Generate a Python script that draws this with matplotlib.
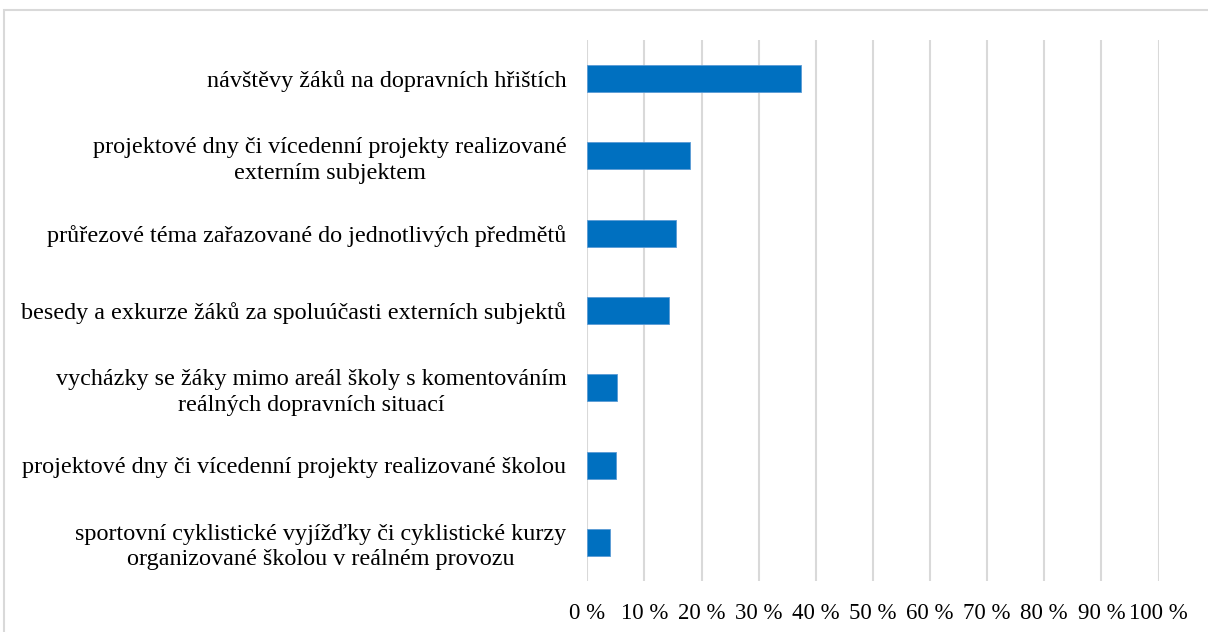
import matplotlib
matplotlib.use('Agg')
import matplotlib.pyplot as plt
from matplotlib.patches import Rectangle

plt.rcParams['font.family'] = ['Liberation Serif', 'DejaVu Serif']

categories = [
    "návštěvy žáků na dopravních hřištích",
    "projektové dny či vícedenní projekty realizované\nexterním subjektem",
    "průřezové téma zařazované do jednotlivých předmětů",
    "besedy a exkurze žáků za spoluúčasti externích subjektů",
    "vycházky se žáky mimo areál školy s komentováním\nreálných dopravních situací",
    "projektové dny či vícedenní projekty realizované školou",
    "sportovní cyklistické vyjížďky či cyklistické kurzy\norganizované školou v reálném provozu",
]
values = [37.4, 18.0, 15.5, 14.3, 5.2, 5.0, 4.0]
xticks = list(range(0, 101, 10))
xtick_labels = [f"{t} %" for t in xticks]

fig = plt.figure(figsize=(12.08, 6.32), dpi=100)
ax = fig.add_axes([587.3 / 1208, 51 / 632, 571.2 / 1208, 541 / 632])

ypos = list(range(len(categories)))
ax.barh(ypos, values, height=0.35, color='#0070C0', edgecolor='#5B9BD5',
        linewidth=0.6, zorder=3)

ax.set_xlim(0, 100)
ax.set_ylim(len(categories) - 0.5, -0.5)
ax.set_xticks(xticks)
ax.set_xticklabels(xtick_labels, fontsize=16.5)
ax.set_yticks(ypos)
ax.set_yticklabels(categories, fontsize=17.4, multialignment='center',
                   linespacing=1.27)
ax.tick_params(axis='both', length=0)
ax.tick_params(axis='y', pad=15)
ax.tick_params(axis='x', pad=16)
ax.grid(axis='x', color='#D9D9D9', linewidth=1.5, zorder=0)
for s in ax.spines.values():
    s.set_visible(False)

# light frame around the chart area
fig.patches.append(Rectangle((3.5 / 1208, -0.1), 1.2, (632 - 10) / 632 + 0.1,
                             transform=fig.transFigure, fill=False,
                             edgecolor='#D9D9D9', linewidth=1.5))

plt.savefig('out.png', dpi=100)
